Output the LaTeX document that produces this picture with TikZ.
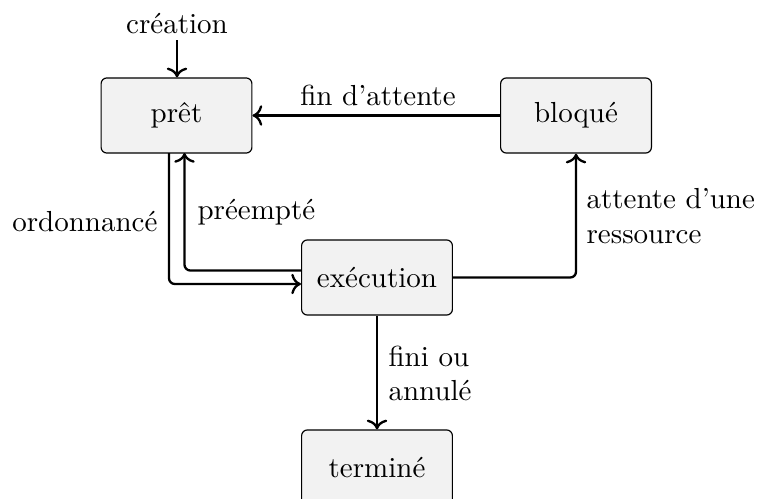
\documentclass[tikz,border=0pt]{standalone}
\usetikzlibrary{arrows.meta}
\begin{document}
\begin{tikzpicture}[x=0.3448pt,y=-0.3448pt,
  state/.style={draw=black, fill=gray!10, rounded corners=2pt, minimum width=52pt, minimum height=25.9pt, inner sep=0pt, line width=0.4pt},
  conn/.style={->, line width=0.8pt, rounded corners=2pt},
  lbl/.style={inner sep=0pt, align=left}]
\useasboundingbox (0,0) rectangle (761,498);
\node[state] (pret) at (176.5,115.5) {prêt};
\node[state] (bloque) at (576,115.5) {bloqué};
\node[state] (exec) at (377,277.5) {exécution};
\node[state] (termine) at (377,467.5) {terminé};
\node[inner sep=0pt, anchor=base] (crea) at (177,33) {création};
\coordinate (creabot) at (177,40);
\draw[conn] (creabot) -- (crea.south |- pret.north);
\draw[conn] (bloque.west) -- (pret.east);
\node[lbl, anchor=base] (fin) at (378,105) {fin d'attente};
\coordinate (o1) at (169,153);
\coordinate (p1) at (184.5,153);
\draw[conn] (o1) |- ([yshift=-6.5*0.3448pt]exec.west);
\draw[conn] ([yshift=7*0.3448pt]exec.west) -| (p1);
\node[lbl, anchor=east] (ordo) at (158,222) {ordonnancé};
\node[lbl, anchor=west] (preem) at (197,212) {préempté};
\draw[conn] (exec.east) -| (bloque.south);
\node[lbl, anchor=north west] (att) at (586,188) {attente d'une\\ressource};
\draw[conn] (exec.south) -- (termine.north);
\node[lbl, anchor=north west] (fini) at (388,345) {fini ou\\annulé};
\end{tikzpicture}
\end{document}
